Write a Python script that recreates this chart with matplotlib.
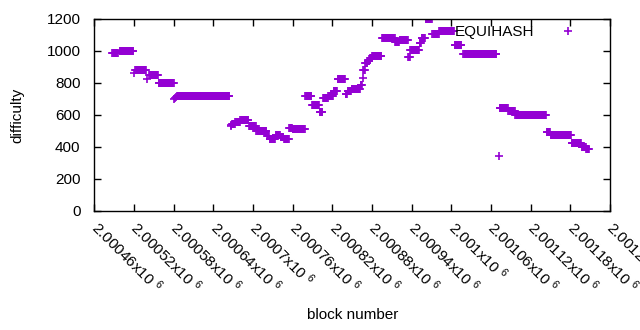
import numpy as np
import matplotlib
matplotlib.use("Agg")
import matplotlib.pyplot as plt
from matplotlib.ticker import MultipleLocator, FuncFormatter

# runs of blocks sharing one difficulty value (first block, last block, difficulty)
run_start = [2000487, 2000498, 2000520, 2000522, 2000540, 2000543, 2000557, 2000581, 2000582,
             2000583, 2000585, 2000666, 2000667, 2000668, 2000673, 2000681, 2000694, 2000705,
             2000721, 2000725, 2000734, 2000742, 2000747, 2000755, 2000760, 2000779, 2000789,
             2000801, 2000806, 2000814, 2000822, 2000824, 2000828, 2000840, 2000843, 2000849,
             2000863, 2000866, 2000867, 2000870, 2000874, 2000877, 2000880, 2000895, 2000915,
             2000922, 2000935, 2000938, 2000952, 2000955, 2000961, 2000971, 2000982, 2001005,
             2001018, 2001072, 2001073, 2001086, 2001097, 2001144, 2001150, 2001182, 2001197,
             2001204]
run_end = [2000495, 2000519, 2000520, 2000538, 2000540, 2000556, 2000580, 2000581, 2000582,
           2000583, 2000664, 2000666, 2000667, 2000672, 2000680, 2000693, 2000704, 2000720,
           2000724, 2000733, 2000741, 2000746, 2000754, 2000759, 2000778, 2000788, 2000800,
           2000805, 2000813, 2000821, 2000823, 2000827, 2000839, 2000842, 2000848, 2000862,
           2000865, 2000866, 2000869, 2000873, 2000876, 2000879, 2000894, 2000914, 2000921,
           2000934, 2000937, 2000951, 2000954, 2000960, 2000970, 2000981, 2001004, 2001015,
           2001068, 2001072, 2001085, 2001096, 2001143, 2001149, 2001181, 2001196, 2001203,
           2001208]
run_difficulty = [986, 1000, 865, 879, 826, 848, 800, 700, 708,
                  712, 717, 531, 540, 545, 555, 569, 531, 500,
                  470, 450, 472, 462, 450, 520, 512, 717, 660,
                  620, 705, 718, 752, 750, 823, 731, 752, 762,
                  787, 830, 880, 925, 935, 958, 969, 1079, 1058,
                  1069, 962, 1006, 1052, 1079, 1198, 1106, 1125, 1037,
                  981, 344, 642, 624, 600, 496, 475, 423, 402,
                  387]

blocks = np.concatenate([np.arange(a, b + 1) for a, b in zip(run_start, run_end)])
difficulty = np.concatenate([np.full(b - a + 1, d) for a, b, d in zip(run_start, run_end, run_difficulty)])

plt.rcParams['font.family'] = ['Liberation Sans', 'DejaVu Sans']
plt.rcParams['mathtext.fontset'] = 'custom'
plt.rcParams['mathtext.rm'] = 'Liberation Sans'
plt.rcParams['mathtext.it'] = 'Liberation Sans:italic'
plt.rcParams['font.size'] = 11

fig = plt.figure(figsize=(6.4, 3.3), dpi=100)
ax = fig.add_axes([94.4 / 640, 1 - 211 / 330, (610 - 94.4) / 640, (211 - 19) / 330])

color = '#9400D3'
ax.plot(blocks, difficulty, '+', color=color, markersize=6, markeredgewidth=1.2,
        linestyle='none', label='EQUIHASH')

ax.set_xlim(2000460, 2001240)
ax.set_ylim(0, 1200)
ax.xaxis.set_major_locator(MultipleLocator(60))
ax.yaxis.set_major_locator(MultipleLocator(200))
ax.xaxis.set_major_formatter(FuncFormatter(lambda v, p: f"{v / 1e6:g}x10 $^{{6}}$"))

ax.tick_params(direction='in', length=5, width=1, top=True, right=True, color='black')
ax.tick_params(axis='y', pad=10)
ax.tick_params(axis='x', pad=10)
for lab in ax.get_xticklabels():
    lab.set_rotation(-45)
    lab.set_ha('left')
    lab.set_va('center')
    lab.set_rotation_mode('anchor')
for s in ax.spines.values():
    s.set_linewidth(1)

ax.set_xlabel('block number')
ax.set_ylabel('difficulty')
ax.xaxis.set_label_coords(0.5, -97 / 192)
ax.yaxis.set_label_coords(-(94.4 - 24) / 515.6, 0.5)

ax.legend(loc='center right', bbox_to_anchor=(1 - 27 / 515.6, 1 - 13 / 192), frameon=False,
          markerfirst=False, handlelength=2, handletextpad=1.2, borderpad=0, borderaxespad=0,
          fontsize=11)

fig.savefig('out.png', dpi=100)
